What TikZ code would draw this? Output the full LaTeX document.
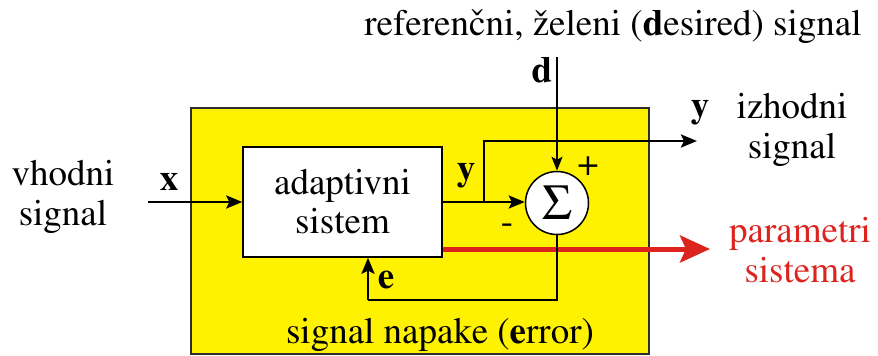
\documentclass[tikz,border=0pt]{standalone}
\usepackage[T1]{fontenc}
\usepackage{mathptmx}
\usetikzlibrary{arrows.meta,calc}
\definecolor{boxyellow}{RGB}{255,242,0}
\definecolor{parred}{RGB}{220,35,30}
\definecolor{framegray}{RGB}{45,45,45}
\begin{document}
\begin{tikzpicture}[x=1pt,y=-1pt,
  txt/.style={font=\fontsize{37}{40}\selectfont, inner sep=0pt, anchor=base},
  blockbox/.style={draw=black, line width=1.5pt, fill=white, minimum width=199pt, minimum height=110pt, inner sep=0pt, align=center, font=\fontsize{37}{41}\selectfont},
  sumnode/.style={draw=black, line width=1.5pt, fill=white, circle, minimum size=63pt, inner sep=0pt, font=\fontsize{50}{50}\selectfont},
  sig/.style={draw=black, line width=2.6pt, -{Stealth[length=16pt,width=13pt,inset=3pt]}},
  plainsig/.style={draw=black, line width=2.6pt},
  thinsig/.style={draw=black, line width=1.5pt, -{Stealth[length=14pt,width=11pt,inset=3pt]}},
  redsig/.style={draw=parred, line width=5pt, -{Stealth[length=30pt,width=27pt,inset=6pt]}}
]
\useasboundingbox (0,0) rectangle (878,356);
% outer yellow frame
\node[draw=framegray, line width=2pt, fill=boxyellow, minimum width=458pt, minimum height=246pt, inner sep=0pt] (frame) at (420,231) {};
% blocks
\node[blockbox] (ad) at (342.5,202) {adaptivni\\[-2pt]sistem};
\node[sumnode] (sum) at (557,203) {$\Sigma$};
% coordinates
\coordinate (xin) at (148,202);
\coordinate (br) at (484,202);
\coordinate (yout) at (697,141);
\coordinate (dtop) at (557,57);
\coordinate (par) at (710,249);
\coordinate (ebot) at (368,300);
% connectors
\draw[sig] (xin) -- (ad.west);
\draw[sig] (ad.east) -- (ad.east -| sum.west);
\draw[sig] (br) |- (yout);
\draw[thinsig] (dtop) -- (sum.north);
\draw[redsig] (ad.east |- par) -- (par);
\draw[plainsig] (sum.south) |- (ebot);
\draw[sig] (ebot) -- (ebot |- ad.south);
% labels
\node[txt] (top) at (613,35) {referen\v{c}ni, \v{z}eleni (\textbf{d}esired) signal};
\node[txt] (dl) at (542,82) {\textbf{d}};
\node[txt] (yin) at (466,180) {\textbf{y}};
\node[txt] (youtl) at (700,117) {\textbf{y}};
\node[txt] (xl) at (169,190) {\textbf{x}};
\node[txt] (el) at (386,288) {\textbf{e}};
\node[txt] (plus) at (588,175) {+};
\node[txt] (minus) at (507,233) {-};
\node[txt, align=center] (vh) at (63,225) {vhodni\\signal};
\node[txt, align=center] (iz) at (792,158) {izhodni\\signal};
\node[txt, align=center, text=parred] (pa) at (800,282) {parametri\\sistema};
\node[txt] (err) at (440,343) {signal napake (\textbf{e}rror)};
\end{tikzpicture}
\end{document}
